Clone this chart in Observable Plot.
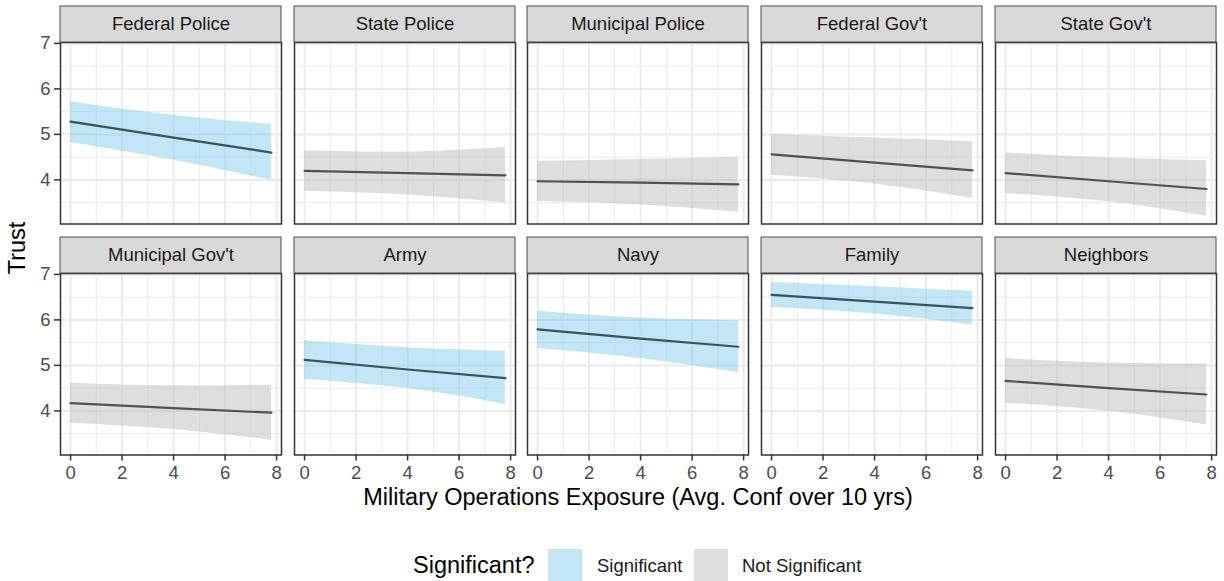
<!DOCTYPE html>
<html><head><meta charset="utf-8">
<script src="https://cdn.jsdelivr.net/npm/d3@7"></script>
<script src="https://cdn.jsdelivr.net/npm/@observablehq/plot@0.6"></script>
<style>
html,body{margin:0;padding:0;background:#fff;}
#chart{position:relative;width:1224px;height:581px;overflow:hidden;font-family:"Liberation Sans",Arial,Helvetica,sans-serif;}
.t{position:absolute;white-space:nowrap;line-height:1;}
</style></head><body><div id="chart"></div>
<script>
// ---- data ----
const panelNames = ["Federal Police","State Police","Municipal Police","Federal Gov't","State Gov't",
                    "Municipal Gov't","Army","Navy","Family","Neighbors"];
const significance = ["Significant","Not Significant","Not Significant","Not Significant","Not Significant",
                      "Not Significant","Significant","Significant","Significant","Not Significant"];
const exposure   = [0, 4, 7.8];
const fitStart   = [5.28, 4.20, 3.97, 4.56, 4.15, 4.17, 5.12, 5.79, 6.55, 4.66];
const fitMid     = [4.93, 4.15, 3.94, 4.38, 3.97, 4.06, 4.91, 5.59, 6.40, 4.50];
const fitEnd     = [4.60, 4.10, 3.90, 4.21, 3.80, 3.96, 4.72, 5.41, 6.26, 4.36];
const upperStart = [5.72, 4.64, 4.41, 5.00, 4.59, 4.61, 5.54, 6.19, 6.82, 5.15];
const upperMid   = [5.42, 4.61, 4.45, 4.92, 4.48, 4.55, 5.39, 6.04, 6.73, 5.05];
const upperEnd   = [5.22, 4.71, 4.50, 4.84, 4.42, 4.57, 5.31, 5.98, 6.63, 5.03];
const lowerStart = [4.82, 3.75, 3.53, 4.10, 3.70, 3.73, 4.69, 5.37, 6.27, 4.17];
const lowerMid   = [4.43, 3.67, 3.45, 3.91, 3.52, 3.59, 4.49, 5.15, 6.13, 3.99];
const lowerEnd   = [3.99, 3.49, 3.29, 3.59, 3.20, 3.35, 4.14, 4.84, 5.89, 3.69];
const xTicks = [0, 2, 4, 6, 8];
const xMinor = [1, 3, 5, 7];
const yTicks = [4, 5, 6, 7];
const yMinor = [3.5, 4.5, 5.5, 6.5];
const legendTitle = "Significant?";
const sigLevels = ["Significant", "Not Significant"];
const xTitle = "Military Operations Exposure (Avg. Conf over 10 yrs)";
const yTitle = "Trust";

// ---- styling / layout ----
const ribbonColors = ["#87CEEB", "#BEBEBE"];
const lineColors = ["#37535F", "#505050"];
const colLeft = [60, 293.5, 527, 761, 995];
const rowTop = [41.8, 273];
const PW = 221, PH = 181.5, STRIP = 36;
const mL = 44, mR = 4, mT = STRIP + 2, mB = 32;

const chart = document.getElementById("chart");

const stripMark = (index, scales, values, dims) => {
  const x0 = dims.marginLeft, x1 = dims.width - dims.marginRight, y1 = dims.marginTop;
  const g = d3.create("svg:g");
  g.append("rect").attr("x", x0).attr("y", y1 - STRIP).attr("width", x1 - x0).attr("height", STRIP)
    .attr("fill", "#D9D9D9").attr("stroke", "#4D4D4D").attr("stroke-width", 1);
  return g.node();
};

panelNames.forEach((name, i) => {
  const r = Math.floor(i / 5), c = i % 5;
  const sigIdx = sigLevels.indexOf(significance[i]);
  const rows = exposure.map((x, k) => ({
    x,
    fit: [fitStart, fitMid, fitEnd][k][i],
    hi: [upperStart, upperMid, upperEnd][k][i],
    lo: [lowerStart, lowerMid, lowerEnd][k][i]
  }));
  const marks = [
    Plot.ruleX(xMinor, {stroke: "#EBEBEB", strokeWidth: 1}),
    Plot.ruleY(yMinor, {stroke: "#EBEBEB", strokeWidth: 1}),
    Plot.ruleX(xTicks, {stroke: "#EBEBEB", strokeWidth: 2}),
    Plot.ruleY(yTicks, {stroke: "#EBEBEB", strokeWidth: 2}),
    Plot.areaY(rows, {x: "x", y1: "lo", y2: "hi", fill: ribbonColors[sigIdx], fillOpacity: 0.5, curve: "natural"}),
    Plot.line(rows, {x: "x", y: "fit", stroke: lineColors[sigIdx], strokeWidth: 2.2}),
    Plot.frame({stroke: "#333333", strokeWidth: 1.5}),
    stripMark,
    Plot.text([name], {text: d => d, frameAnchor: "top", dy: -STRIP / 2, fontSize: 18.5,
                       fill: "#1A1A1A", lineAnchor: "middle"})
  ];
  if (c === 0) marks.push(Plot.axisY({ticks: yTicks, tickFormat: d => String(d), tickSize: 6, tickPadding: 4,
    label: null, fontSize: 18.5, stroke: "#333333", fill: "#4D4D4D", strokeWidth: 1.5}));
  if (r === 1) marks.push(Plot.axisX({ticks: xTicks, tickFormat: d => String(d), tickSize: 6, tickPadding: 5,
    label: null, fontSize: 18.5, stroke: "#333333", fill: "#4D4D4D", strokeWidth: 1.5}));
  const svg = Plot.plot({
    width: PW + mL + mR,
    height: PH + mT + mB,
    marginLeft: mL, marginRight: mR, marginTop: mT, marginBottom: mB,
    x: {domain: [-0.39, 8.19], axis: r === 1 ? undefined : null},
    y: {domain: [3.03, 7.02], axis: c === 0 ? undefined : null},
    style: {position: "absolute", left: (colLeft[c] - mL) + "px", top: (rowTop[r] - mT) + "px",
            overflow: "visible", fontFamily: "'Liberation Sans', Arial, sans-serif", fontSize: "18.5px",
            background: "transparent", maxWidth: "none"},
    marks
  });
  chart.appendChild(svg);
});

// axis titles
function addText(txt, css) {
  const d = document.createElement("div");
  d.className = "t";
  d.textContent = txt;
  Object.assign(d.style, css);
  chart.appendChild(d);
  return d;
}
addText(xTitle, {left: "638px", top: "498px", fontSize: "23.5px", color: "#000",
                 transform: "translate(-50%,-50%)"});
addText(yTitle, {left: "18px", top: "248px", fontSize: "23.5px", color: "#000",
                 transform: "translate(-50%,-50%) rotate(-90deg)"});

// legend
addText(legendTitle, {left: "413px", top: "566px", fontSize: "23.5px", color: "#000", transform: "translateY(-50%)"});
const keyLeft = [548, 694], labLeft = [597, 742];
sigLevels.forEach((lev, j) => {
  const k = document.createElement("div");
  Object.assign(k.style, {position: "absolute", left: keyLeft[j] + "px", top: "549px", width: "34px", height: "34px",
                          background: ribbonColors[j], opacity: 0.5});
  chart.appendChild(k);
  addText(lev, {left: labLeft[j] + "px", top: "566px", fontSize: "18.5px", color: "#1A1A1A", transform: "translateY(-50%)"});
});
</script></body></html>
